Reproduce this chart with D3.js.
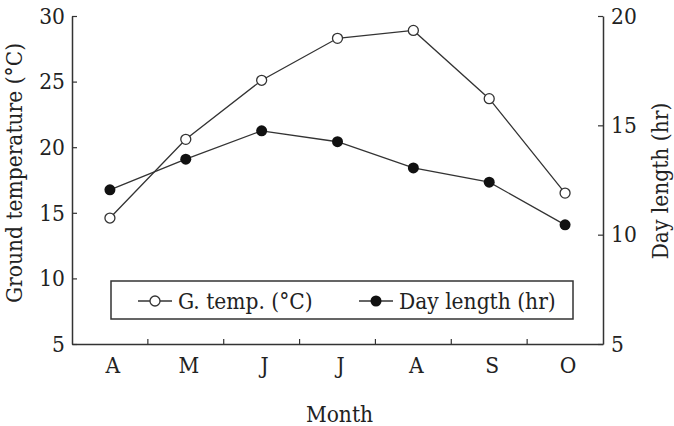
<!DOCTYPE html>
<html>
<head>
<meta charset="utf-8">
<script src="https://cdn.jsdelivr.net/npm/d3@7"></script>
<style>
  body { margin: 0; background: #fff; }
  text { font-family: "DejaVu Serif Condensed", "DejaVu Serif", serif; font-stretch: condensed; fill: #222; }
</style>
</head>
<body>
<div class="chart"></div>
<script>
var months = ["A", "M", "J", "J", "A", "S", "O"];
var temp = [14.6, 20.6, 25.1, 28.3, 28.9, 23.7, 16.5];
var dayLength = [12.05, 13.45, 14.75, 14.25, 13.05, 12.4, 10.45];
var leftTicks = [5, 10, 15, 20, 25, 30];
var rightTicks = [5, 10, 15, 20];

var W = 674, H = 426;
var margin = {top: 16, right: 71, bottom: 82, left: 72};
var width = W - margin.left - margin.right,
    height = H - margin.top - margin.bottom;
var fs = 22.5;

var svg = d3.select(".chart").append("svg")
    .attr("width", W)
    .attr("height", H)
    .append("g")
    .attr("transform", "translate(" + margin.left + "," + margin.top + ")");

// scales
var x = d3.scaleBand()
    .domain(d3.range(months.length))
    .range([0, width])
    .padding(0);
var yL = d3.scaleLinear().domain([5, 30]).range([height, 0]);
var yR = d3.scaleLinear().domain([5, 20]).range([height, 0]);

function cx(i) { return x(i) + x.bandwidth() / 2; }

// axes
var gx = svg.append("g")
    .attr("transform", "translate(0," + height + ")")
    .call(d3.axisBottom(x).tickSize(0).tickFormat(function (i) { return months[i]; }));
gx.selectAll("text").attr("y", 29).attr("dy", null).attr("dx", 3).style("font-size", fs + "px");
// tick marks on band boundaries, pointing inwards
gx.selectAll(".bnd")
    .data(d3.range(1, months.length))
    .enter().append("line")
    .attr("x1", function (i) { return x(i); })
    .attr("x2", function (i) { return x(i); })
    .attr("y1", 0).attr("y2", -5)
    .attr("stroke", "#333").attr("stroke-width", 1.2);

var gl = svg.append("g")
    .call(d3.axisLeft(yL).tickValues(leftTicks).tickSizeInner(-5).tickSizeOuter(0).tickPadding(7));
gl.selectAll("text").style("font-size", fs + "px");

var gr = svg.append("g")
    .attr("transform", "translate(" + width + ",0)")
    .call(d3.axisRight(yR).tickValues(rightTicks).tickSizeInner(-5).tickSizeOuter(0).tickPadding(8));
gr.selectAll("text").style("font-size", fs + "px");

svg.selectAll(".domain").attr("stroke", "#333").attr("stroke-width", 1.5);
svg.selectAll(".tick line").attr("stroke", "#333").attr("stroke-width", 1.2);

// axis titles
svg.append("text")
    .attr("transform", "translate(" + (22 - margin.left) + "," + (173 - margin.top) + ") rotate(-90)")
    .attr("text-anchor", "middle")
    .style("font-size", fs + "px")
    .text("Ground temperature (°C)");
svg.append("text")
    .attr("transform", "translate(" + (668 - margin.left) + "," + (181 - margin.top) + ") rotate(-90)")
    .attr("text-anchor", "middle")
    .style("font-size", fs + "px")
    .text("Day length (hr)");
svg.append("text")
    .attr("x", width / 2 + 2)
    .attr("y", 422 - margin.top)
    .attr("text-anchor", "middle")
    .style("font-size", fs + "px")
    .text("Month");

// lines
var lineL = d3.line().x(function (d, i) { return cx(i); }).y(function (d) { return yL(d); });
var lineR = d3.line().x(function (d, i) { return cx(i); }).y(function (d) { return yR(d); });

svg.append("path").datum(temp)
    .attr("d", lineL).attr("fill", "none").attr("stroke", "#333").attr("stroke-width", 1.3);
svg.append("path").datum(dayLength)
    .attr("d", lineR).attr("fill", "none").attr("stroke", "#333").attr("stroke-width", 1.3);

svg.selectAll(".ptT").data(temp).enter().append("circle")
    .attr("cx", function (d, i) { return cx(i); })
    .attr("cy", function (d) { return yL(d); })
    .attr("r", 5)
    .attr("fill", "#fff").attr("stroke", "#333").attr("stroke-width", 1.3);
svg.selectAll(".ptD").data(dayLength).enter().append("circle")
    .attr("cx", function (d, i) { return cx(i); })
    .attr("cy", function (d) { return yR(d); })
    .attr("r", 5.5)
    .attr("fill", "#111");

// legend
var lg = svg.append("g").attr("transform", "translate(" + (111 - margin.left) + "," + (281 - margin.top) + ")");
lg.append("rect").attr("width", 462).attr("height", 38)
    .attr("fill", "#fff").attr("stroke", "#333").attr("stroke-width", 1.5);
var items = [
    {label: "G. temp. (°C)", x0: 27, open: true},
    {label: "Day length (hr)", x0: 248, open: false}
];
items.forEach(function (it) {
    var g = lg.append("g").attr("transform", "translate(" + it.x0 + ",20)");
    g.append("line").attr("x1", 0).attr("x2", 34).attr("stroke", "#333").attr("stroke-width", 1.3);
    g.append("circle").attr("cx", 17).attr("r", it.open ? 5 : 5.5)
        .attr("fill", it.open ? "#fff" : "#111")
        .attr("stroke", it.open ? "#333" : "none").attr("stroke-width", 1.3);
    g.append("text").attr("x", 40).attr("dy", "0.35em")
        .style("font-size", fs + "px").text(it.label);
});
</script>
</body>
</html>
